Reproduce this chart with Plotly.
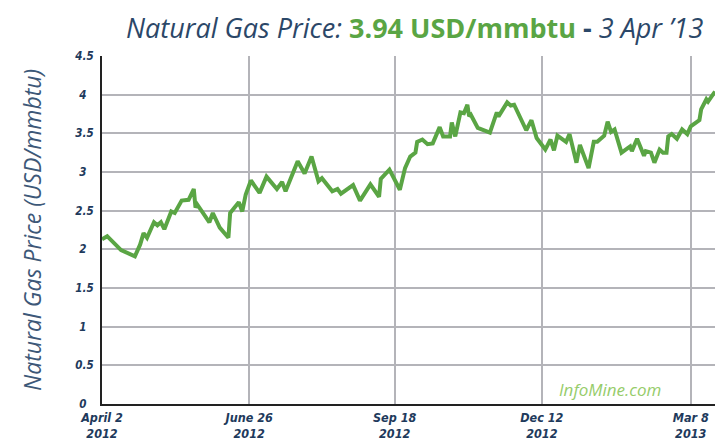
import plotly.graph_objects as go

dates = [
    "2012-04-02", "2012-04-05", "2012-04-13", "2012-04-21", "2012-04-24", "2012-04-26",
    "2012-04-28", "2012-05-02", "2012-05-04", "2012-05-06", "2012-05-08", "2012-05-12",
    "2012-05-14", "2012-05-18", "2012-05-22", "2012-05-25", "2012-05-26", "2012-05-27",
    "2012-06-03", "2012-06-05", "2012-06-09", "2012-06-14", "2012-06-15", "2012-06-20",
    "2012-06-22", "2012-06-24", "2012-06-27", "2012-07-02", "2012-07-06", "2012-07-12",
    "2012-07-15", "2012-07-17", "2012-07-24", "2012-07-28", "2012-08-01", "2012-08-05",
    "2012-08-07", "2012-08-13", "2012-08-16", "2012-08-18", "2012-08-25", "2012-08-29",
    "2012-09-04", "2012-09-09", "2012-09-10", "2012-09-15", "2012-09-21", "2012-09-24",
    "2012-09-27", "2012-09-30", "2012-10-01", "2012-10-04", "2012-10-07", "2012-10-10",
    "2012-10-14", "2012-10-16", "2012-10-20", "2012-10-21", "2012-10-23", "2012-10-26",
    "2012-10-28", "2012-10-30", "2012-10-31", "2012-11-01", "2012-11-05", "2012-11-12",
    "2012-11-16", "2012-11-17", "2012-11-22", "2012-11-24", "2012-11-26", "2012-12-03",
    "2012-12-06", "2012-12-09", "2012-12-14", "2012-12-17", "2012-12-19", "2012-12-21",
    "2012-12-26", "2012-12-28", "2013-01-01", "2013-01-03", "2013-01-08", "2013-01-11",
    "2013-01-13", "2013-01-17", "2013-01-19", "2013-01-21", "2013-01-23", "2013-01-27",
    "2013-02-01", "2013-02-02", "2013-02-05", "2013-02-09", "2013-02-10", "2013-02-13",
    "2013-02-15", "2013-02-18", "2013-02-20", "2013-02-22", "2013-02-23", "2013-02-25",
    "2013-02-28", "2013-03-03", "2013-03-06", "2013-03-08", "2013-03-13", "2013-03-14",
    "2013-03-17", "2013-03-18", "2013-03-22",
]
prices = [
    2.13, 2.17, 1.99, 1.91, 2.06, 2.21,
    2.15, 2.35, 2.31, 2.35, 2.26, 2.49,
    2.47, 2.63, 2.64, 2.78, 2.54, 2.58,
    2.35, 2.47, 2.28, 2.15, 2.47, 2.61,
    2.49, 2.71, 2.89, 2.73, 2.94, 2.78,
    2.87, 2.75, 3.14, 2.98, 3.20, 2.88,
    2.92, 2.75, 2.78, 2.72, 2.83, 2.63,
    2.84, 2.68, 2.91, 3.03, 2.77, 3.05,
    3.20, 3.25, 3.39, 3.42, 3.36, 3.37,
    3.58, 3.46, 3.46, 3.64, 3.46, 3.77,
    3.76, 3.87, 3.72, 3.74, 3.57, 3.51,
    3.77, 3.72, 3.90, 3.86, 3.87, 3.54,
    3.67, 3.44, 3.29, 3.42, 3.28, 3.47,
    3.39, 3.49, 3.12, 3.35, 3.05, 3.39,
    3.39, 3.47, 3.65, 3.52, 3.55, 3.25,
    3.33, 3.27, 3.43, 3.21, 3.27, 3.25,
    3.12, 3.29, 3.25, 3.25, 3.46, 3.49,
    3.43, 3.55, 3.49, 3.59, 3.67, 3.81,
    3.94, 3.91, 4.04,
]

tick_dates = ["2012-04-02", "2012-06-26", "2012-09-18", "2012-12-12", "2013-03-08"]
tick_labels = ["April 2<br>2012", "June 26<br>2012", "Sep 18<br>2012", "Dec 12<br>2012", "Mar 8<br>2013"]
y_ticks = [0, 0.5, 1, 1.5, 2, 2.5, 3, 3.5, 4, 4.5]
y_labels = ["0", "0.5", "1", "1.5", "2", "2.5", "3", "3.5", "4", "4.5"]

NAVY = "#1e3a5c"
GREEN = "#5aa544"
GRID = "#b4b4b9"
CONDENSED = "Liberation Sans Narrow, DejaVu Sans Condensed, Roboto Condensed, Arial Narrow, Open Sans, sans-serif"


def y_text(label):
    # labels in the reference are centred in their column: pad the short ones
    pad = "" if "." in label else "\u00a0\u00a0"
    return "<b><i>%s%s</i></b>" % (label, pad)


fig = go.Figure()
fig.add_trace(go.Scatter(
    x=dates, y=prices, mode="lines",
    line=dict(color=GREEN, width=4), cliponaxis=True, hoverinfo="skip",
))

fig.update_layout(
    width=715, height=441,
    margin=dict(l=102, r=0, t=56, b=37, autoexpand=False),
    paper_bgcolor="white", plot_bgcolor="white",
    showlegend=False,
    xaxis=dict(
        type="date", range=["2012-04-02", "2013-03-22"],
        tickvals=tick_dates, ticktext=["<b><i>%s</i></b>" % t for t in tick_labels],
        showgrid=True, gridcolor=GRID, gridwidth=2,
        showline=True, linecolor="#222222", linewidth=2,
        ticks="", zeroline=False, automargin=False,
        tickfont=dict(family=CONDENSED, size=12.5, color=NAVY),
        ticklabelstandoff=1,
    ),
    yaxis=dict(
        range=[0, 4.5], tickvals=y_ticks, ticktext=[y_text(t) for t in y_labels],
        showgrid=True, gridcolor=GRID, gridwidth=2,
        showline=True, linecolor="#222222", linewidth=2,
        ticks="", zeroline=False, automargin=False,
        tickfont=dict(family=CONDENSED, size=11.5, color=NAVY),
        ticklabelstandoff=4,
        title=dict(text="<i>Natural Gas Price (USD/mmbtu)</i>",
                   font=dict(family="Open Sans, Lato, sans-serif", size=23, color="#3d5878"),
                   standoff=27),
    ),
)

fig.add_annotation(
    xref="paper", yref="paper", x=1.0, y=1.0, xanchor="right", yanchor="bottom",
    xshift=-10, yshift=8,
    text=("<i>Natural Gas Price: </i><b><span style='color:%s'>3.94 USD/mmbtu</span> - </b><i>3 Apr \u201913</i>" % GREEN),
    showarrow=False,
    font=dict(family="Open Sans, Lato, sans-serif", size=27, color="#2b4768"),
)

fig.add_annotation(
    xref="paper", yref="paper", x=0.915, y=0.0, xanchor="right", yanchor="bottom",
    yshift=1,
    text="<i>InfoMine.com</i>",
    showarrow=False,
    font=dict(family="Open Sans, Lato, sans-serif", size=17, color="#96cc6a"),
)

fig.write_html(
    "out.html",
    config={"displayModeBar": False},
    post_script="document.body.style.margin='0';document.body.style.overflow='hidden';",
)
